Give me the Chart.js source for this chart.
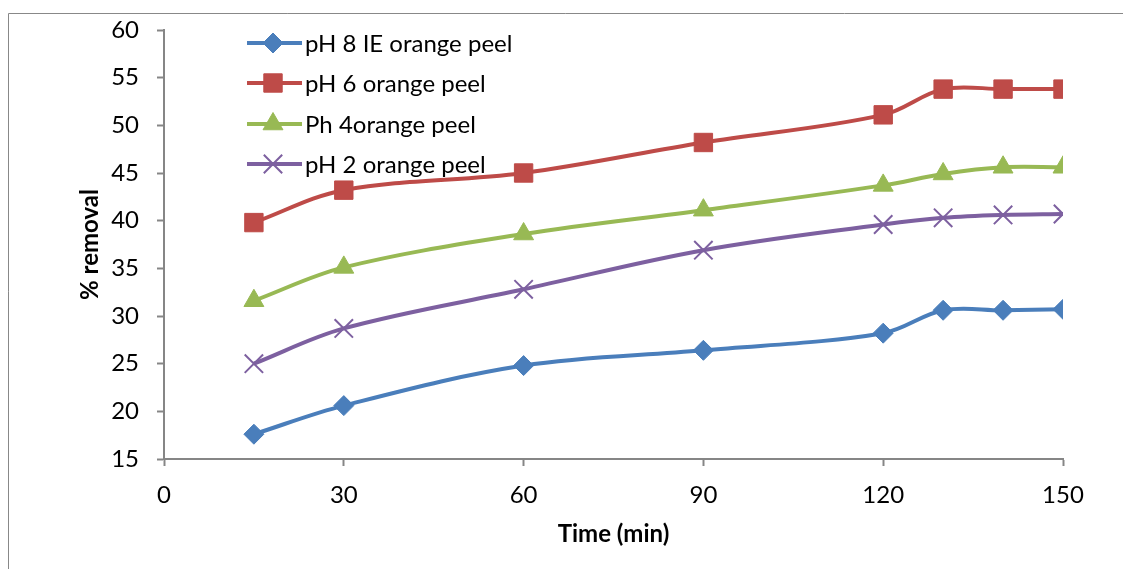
<!DOCTYPE html>
<html>
<head>
<meta charset="utf-8">
<script src="https://cdn.jsdelivr.net/npm/chart.js@4/dist/chart.umd.min.js"></script>
<style>
  html, body { margin: 0; padding: 0; background: #fff; overflow: hidden; }
  canvas { display: block; }
</style>
</head>
<body>
<canvas id="chart" width="1123" height="569"></canvas>
<script>
const times = [15, 30, 60, 90, 120, 130, 140, 150];
const ph8 = [17.6, 20.6, 24.8, 26.4, 28.2, 30.6, 30.6, 30.7];
const ph6 = [39.8, 43.2, 45.0, 48.2, 51.1, 53.8, 53.8, 53.8];
const ph4 = [31.6, 35.1, 38.6, 41.1, 43.7, 44.9, 45.6, 45.6];
const ph2 = [25.0, 28.7, 32.8, 36.9, 39.6, 40.3, 40.6, 40.7];
const seriesNames = ["pH 8 IE orange peel", "pH 6 orange peel", "Ph 4orange peel", "pH 2 orange peel"];
const colors = ["#4A7EBB", "#BE4B48", "#98B954", "#7D60A0"];
const markers = ["rectRot", "rect", "triangle", "crossRot"];
const markerSizes = [10, 13, 11.5, 13];

const fontFamily = "Lato, 'Open Sans', sans-serif";
const axisGray = "#868686";

function pts(vals) {
  return vals.map((v, i) => ({ x: times[i], y: v }));
}

const allValues = [ph8, ph6, ph4, ph2];
const datasets = allValues.map((vals, i) => ({
  label: seriesNames[i],
  data: pts(vals),
  borderColor: colors[i],
  backgroundColor: colors[i],
  borderWidth: 4,
  tension: 0.35,
  pointStyle: markers[i],
  pointRadius: markerSizes[i],
  pointBorderWidth: markers[i] === "crossRot" ? 2 : 1,
  pointBorderColor: colors[i],
  pointBackgroundColor: colors[i]
}));

// outer frame: only left and top edges show in the picture
const frame = {
  id: "frame",
  beforeDraw(chart) {
    const ctx = chart.ctx;
    ctx.save();
    ctx.strokeStyle = "#888";
    ctx.lineWidth = 1;
    ctx.beginPath();
    ctx.moveTo(8.5, 569);
    ctx.lineTo(8.5, 13.5);
    ctx.lineTo(1123, 13.5);
    ctx.stroke();
    ctx.restore();
  }
};

// legend drawn inside the plot, top-left, like the Excel chart
const insideLegend = {
  id: "insideLegend",
  afterDraw(chart) {
    const ctx = chart.ctx;
    const rows = [43, 83, 124, 164];
    chart.data.datasets.forEach((ds, i) => {
      const y = rows[i];
      ctx.save();
      ctx.strokeStyle = ds.borderColor;
      ctx.lineWidth = 4;
      ctx.beginPath();
      ctx.moveTo(247, y);
      ctx.lineTo(302, y);
      ctx.stroke();
      ctx.fillStyle = ds.backgroundColor;
      ctx.lineWidth = ds.pointBorderWidth;
      Chart.helpers.drawPoint(ctx, { pointStyle: ds.pointStyle, radius: ds.pointRadius, borderWidth: ds.pointBorderWidth }, 273, y);
      ctx.fillStyle = "#000";
      ctx.font = "24px " + fontFamily;
      ctx.textBaseline = "middle";
      ctx.fillText(ds.label, 305, y + 1);
      ctx.restore();
    });
  }
};

new Chart(document.getElementById("chart"), {
  type: "line",
  data: { datasets: datasets },
  options: {
    responsive: false,
    animation: false,
    layout: { padding: { left: 0, right: 60, top: 27, bottom: 0 } },
    plugins: { legend: { display: false }, tooltip: { enabled: false } },
    scales: {
      x: {
        type: "linear",
        min: 0,
        max: 150,
        ticks: { stepSize: 30, color: "#000", font: { family: fontFamily, size: 24 }, padding: 15 },
        grid: { drawOnChartArea: false, color: axisGray, tickLength: 7, tickWidth: 2 },
        border: { color: axisGray, width: 2 },
        title: {
          display: true,
          text: "Time (min)",
          color: "#000",
          font: { family: fontFamily, size: 24, weight: "bold" },
          padding: { top: 0, bottom: 20 }
        },
        afterFit(scale) { scale.height = 110; }
      },
      y: {
        min: 15,
        max: 60,
        ticks: { stepSize: 5, color: "#000", font: { family: fontFamily, size: 24, lineHeight: 1 }, padding: 18 },
        grid: { drawOnChartArea: false, color: axisGray, tickLength: 7, tickWidth: 2 },
        border: { color: axisGray, width: 2 },
        title: {
          display: true,
          text: "% removal",
          color: "#000",
          font: { family: fontFamily, size: 24, weight: "bold" },
          padding: { top: 76, bottom: 0 }
        },
        afterFit(scale) { scale.width = 164; }
      }
    }
  },
  plugins: [frame, insideLegend]
});
</script>
</body>
</html>
